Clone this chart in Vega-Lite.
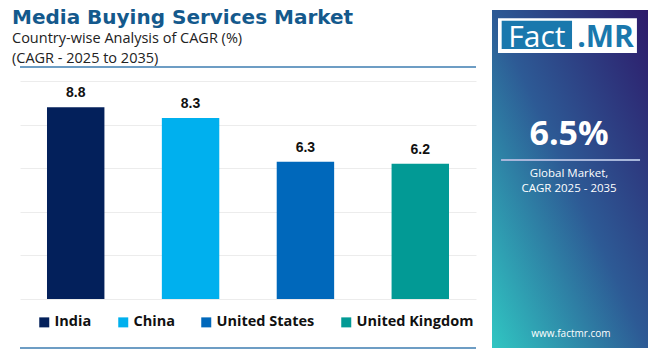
{
  "$schema": "https://vega.github.io/schema/vega-lite/v6.json",
  "background": "white",
  "padding": {"left": 12, "top": 7, "right": 0, "bottom": 0},
  "spacing": 15,
  "config": {"view": {"stroke": null}},
  "hconcat": [
    {
      "width": 456,
      "height": 218,
      "title": {
        "text": "Media Buying Services Market",
        "subtitle": ["Country-wise Analysis of CAGR (%)", "(CAGR - 2025 to 2035)"],
        "anchor": "start",
        "frame": "group",
        "dx": -8,
        "font": "DejaVu Sans",
        "fontSize": 20,
        "fontWeight": "bold",
        "color": "#14598c",
        "subtitleFont": "Open Sans",
        "subtitleFontSize": 14.5,
        "subtitleColor": "#222222",
        "subtitleLineHeight": 20,
        "subtitlePadding": 4,
        "offset": 1
      },
      "data": {
        "values": [
          {"country": "India", "cagr": 8.8},
          {"country": "China", "cagr": 8.3},
          {"country": "United States", "cagr": 6.3},
          {"country": "United Kingdom", "cagr": 6.2}
        ]
      },
      "layer": [
        {
          "mark": {"type": "bar"},
          "encoding": {
            "x": {"field": "country", "type": "nominal", "sort": null, "axis": null,
                  "scale": {"paddingInner": 0.5, "paddingOuter": 0.235}},
            "y": {"field": "cagr", "type": "quantitative",
                  "scale": {"domain": [0, 10], "nice": false},
                  "axis": {"values": [0, 2, 4, 6, 8, 10], "grid": true, "gridColor": "#ececec",
                           "labels": false, "ticks": false, "domain": false, "title": null}},
            "color": {
              "field": "country", "type": "nominal", "sort": null,
              "scale": {"domain": ["India", "China", "United States", "United Kingdom"],
                        "range": ["#03205b", "#00b0ee", "#0068bb", "#029a95"]},
              "legend": {
                "orient": "none", "legendX": 17, "legendY": 234, "direction": "horizontal",
                "title": null, "symbolType": "square", "symbolSize": 100, "symbolStrokeWidth": 0,
                "labelFont": "Open Sans", "labelFontSize": 14.5, "labelFontWeight": "bold",
                "labelColor": "#111111", "columnPadding": 24, "labelOffset": 3
              }
            }
          }
        },
        {
          "mark": {"type": "text", "baseline": "alphabetic", "dy": -10, "font": "Liberation Sans",
                   "fontWeight": "bold", "fontSize": 14, "color": "#111111"},
          "encoding": {
            "x": {"field": "country", "type": "nominal", "sort": null},
            "y": {"field": "cagr", "type": "quantitative"},
            "text": {"field": "cagr", "type": "quantitative", "format": ".1f"}
          }
        },
        {
          "data": {"values": [{}]},
          "mark": {"type": "rule", "color": "#3d7db0", "strokeWidth": 1.5},
          "encoding": {"y": {"datum": 10.64}}
        },
        {
          "data": {"values": [{}]},
          "mark": {"type": "rule", "color": "#3d7db0", "strokeWidth": 1.5},
          "encoding": {"y": {"datum": -2.25}}
        }
      ]
    },
    {
      "width": 156,
      "height": 267,
      "data": {"values": [{"region": "Global Market", "cagr": "6.5%", "site": "www.factmr.com"}]},
      "layer": [
        {
          "mark": {"type": "rect", "fill": {"gradient": "linear", "x1": 1, "y1": 0, "x2": 0, "y2": 1,
                   "stops": [{"offset": 0, "color": "#2d1a6a"}, {"offset": 0.5, "color": "#2d5a95"}, {"offset": 1, "color": "#30c6c2"}]}},
          "encoding": {
            "x": {"datum": 0, "type": "quantitative", "scale": {"domain": [0, 100], "nice": false, "zero": false}, "axis": null},
            "x2": {"datum": 100},
            "y": {"datum": 0, "type": "quantitative", "scale": {"domain": [0, 79.0], "nice": false, "zero": false}, "axis": null},
            "y2": {"datum": 100}
          }
        },
        {
          "mark": {"type": "rect", "fill": "white"},
          "encoding": {"x": {"datum": 3.85}, "x2": {"datum": 92.9}, "y": {"datum": 87.3}, "y2": {"datum": 97.6}}
        },
        {
          "mark": {"type": "rect", "fill": "#1a78ad"},
          "encoding": {"x": {"datum": 6.2}, "x2": {"datum": 51.3}, "y": {"datum": 88.5}, "y2": {"datum": 96.8}}
        },
        {
          "mark": {"type": "text", "align": "center", "baseline": "alphabetic", "font": "Open Sans", "fontSize": 30, "color": "white"},
          "encoding": {"x": {"datum": 28.8}, "y": {"datum": 89.05}, "text": {"value": "Fact"}}
        },
        {
          "mark": {"type": "text", "align": "center", "baseline": "alphabetic", "font": "Open Sans", "fontWeight": "bold", "fontSize": 30, "color": "#1a78ad"},
          "encoding": {"x": {"datum": 72.8}, "y": {"datum": 89.05}, "text": {"value": ".MR"}}
        },
        {
          "mark": {"type": "text", "align": "center", "baseline": "alphabetic", "font": "Open Sans", "fontWeight": "bold", "fontSize": 34, "color": "white"},
          "encoding": {"x": {"datum": 49.4}, "y": {"datum": 60.06}, "text": {"field": "cagr"}}
        },
        {
          "mark": {"type": "rule", "color": "#a7b6da", "strokeWidth": 2},
          "encoding": {"x": {"datum": 5.8}, "x2": {"datum": 94.9}, "y": {"datum": 55.6}}
        },
        {
          "mark": {"type": "text", "align": "center", "baseline": "alphabetic", "font": "Open Sans", "fontSize": 11.5, "color": "white", "lineHeight": 15},
          "encoding": {"x": {"datum": 49.4}, "y": {"datum": 50.6}, "text": {"value": ["Global Market,", "CAGR 2025 - 2035"]}}
        },
        {
          "mark": {"type": "text", "align": "center", "baseline": "alphabetic", "font": "Open Sans", "fontSize": 10, "color": "white"},
          "encoding": {"x": {"datum": 50.6}, "y": {"datum": 3.25}, "text": {"field": "site"}}
        }
      ]
    }
  ]
}
